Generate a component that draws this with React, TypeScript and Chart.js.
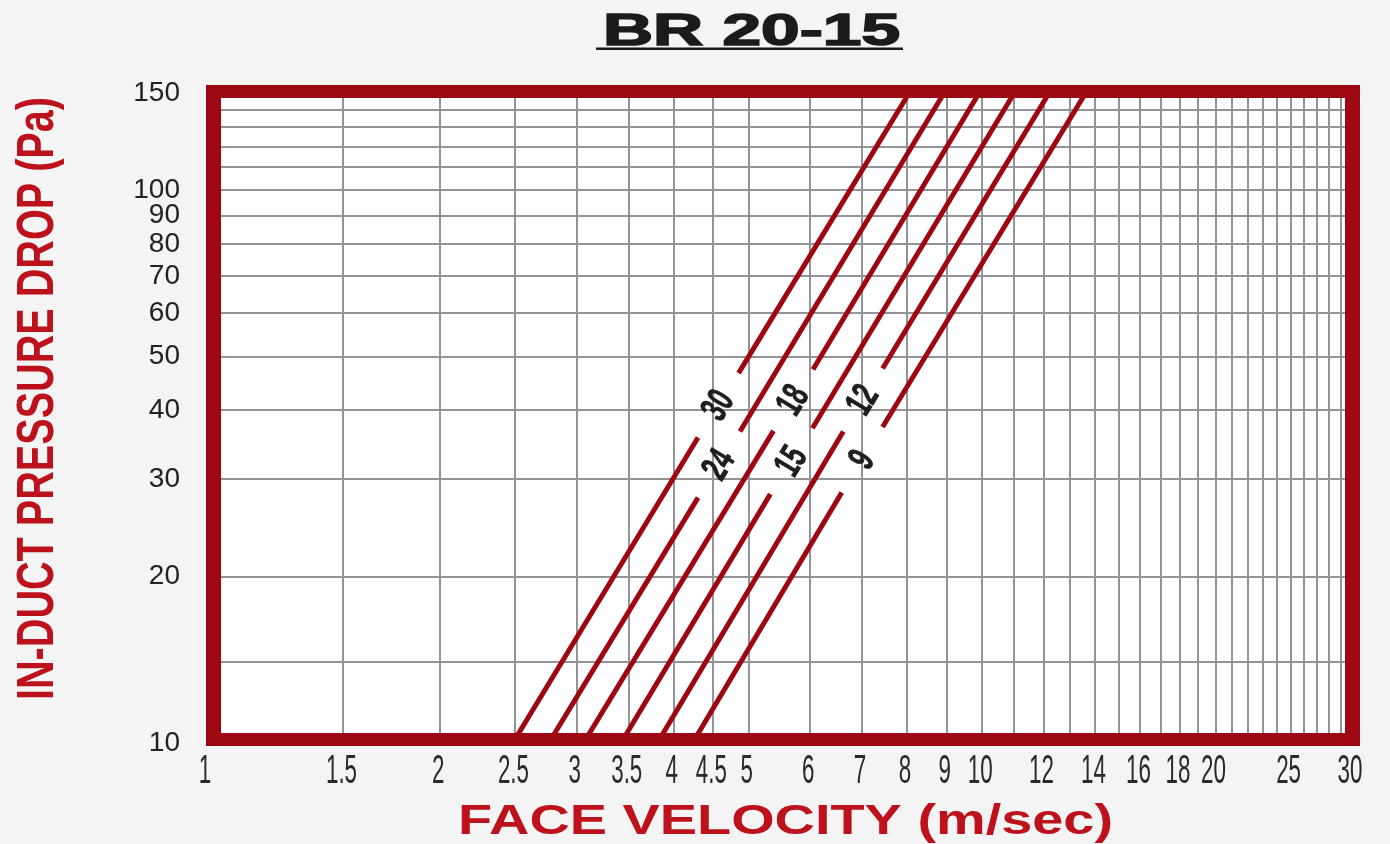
import React, { useEffect, useRef } from 'react';
import { Chart, registerables } from 'chart.js';

Chart.register(...registerables);

// ---------- text ----------
const chartTitle = 'BR 20-15';
const xAxisTitle = 'FACE VELOCITY (m/sec)';
const yAxisTitle = 'IN-DUCT PRESSURE DROP (Pa)';

// ---------- axes ----------
const xGridValues = [1, 1.5, 2, 2.5, 3, 3.5, 4, 4.5, 5, 6, 7, 8, 9, 10, 11, 12, 13, 14, 15, 16, 17, 18, 19, 20, 21, 22, 23, 24, 25, 26, 27, 28, 29, 30];
const xLabelValues = [1, 1.5, 2, 2.5, 3, 3.5, 4, 4.5, 5, 6, 7, 8, 9, 10, 12, 14, 16, 18, 20, 25, 30];
const xLabelTexts = ['1', '1.5', '2', '2.5', '3', '3.5', '4', '4.5', '5', '6', '7', '8', '9', '10', '12', '14', '16', '18', '20', '25', '30'];
const yGridValues = [10, 14, 20, 30, 40, 50, 60, 70, 80, 90, 100, 110, 120, 130, 140, 150];
const yLabelValues = [10, 20, 30, 40, 50, 60, 70, 80, 90, 100, 150];

// ---------- series (null = gap where the label sits) ----------
const seriesNames = ['30', '24', '18', '15', '12', '9'];
const velocity30 = [2.48, 4.3, null, 4.85, 8.05];
const pressure30 = [10, 35.7, null, 46.7, 150];
const velocity24 = [2.76, 4.3, null, 4.87, 8.93];
const pressure24 = [10, 27.8, null, 36.6, 150];
const velocity18 = [3.06, 5.38, null, 6.05, 9.91];
const pressure18 = [10, 36.7, null, 47.4, 150];
const velocity15 = [3.42, 5.33, null, 6.04, 11.0];
const pressure15 = [10, 28.2, null, 37.1, 150];
const velocity12 = [3.81, 6.62, null, 7.44, 12.2];
const pressure12 = [10, 36.6, null, 47.6, 150];
const velocity9 = [4.23, 6.59, null, 7.44, 13.6];
const pressure9 = [10, 28.4, null, 37.3, 150];

const seriesVelocities = [velocity30, velocity24, velocity18, velocity15, velocity12, velocity9];
const seriesPressures = [pressure30, pressure24, pressure18, pressure15, pressure12, pressure9];

// ---------- style ----------
const FRAME_RED = '#9e0711';
const TITLE_RED = '#bd111b';
const GRID = '#949497';
const FONT = '"Liberation Sans", Arial, sans-serif';

function drawScaledText(
  ctx: CanvasRenderingContext2D,
  text: string,
  x: number,
  y: number,
  font: string,
  color: string,
  sx: number,
  angle = 0,
  dy = 0,
  stroke = 0
) {
  ctx.save();
  ctx.translate(x, y);
  ctx.rotate(angle);
  ctx.scale(sx, 1);
  ctx.font = font;
  ctx.fillStyle = color;
  ctx.textAlign = 'center';
  ctx.textBaseline = 'alphabetic';
  ctx.fillText(text, 0, dy);
  if (stroke > 0) {
    ctx.strokeStyle = color;
    ctx.lineWidth = stroke;
    ctx.strokeText(text, 0, dy);
  }
  ctx.restore();
}

function fitScale(ctx: CanvasRenderingContext2D, text: string, font: string, width: number) {
  ctx.save();
  ctx.font = font;
  const w = ctx.measureText(text).width;
  ctx.restore();
  return width / w;
}

const decorPlugin = {
  id: 'decor',
  beforeDraw(chart: any) {
    const { ctx, chartArea: a } = chart;
    ctx.save();
    ctx.fillStyle = '#ffffff';
    ctx.fillRect(a.left + 14, a.top + 5, a.right - a.left - 21, a.bottom - a.top - 15);
    ctx.restore();
  },
  afterDatasetsDraw(chart: any) {
    const { ctx } = chart;
    const xs = chart.scales.x;
    const ys = chart.scales.y;
    const labelFont = `bold 38px ${FONT}`;
    seriesNames.forEach((name, i) => {
      const v = seriesVelocities[i];
      const p = seriesPressures[i];
      const x0 = xs.getPixelForValue(v[0]);
      const y0 = ys.getPixelForValue(p[0]);
      const x4 = xs.getPixelForValue(v[4]);
      const y4 = ys.getPixelForValue(p[4]);
      const x1 = xs.getPixelForValue(v[1]);
      const y1 = ys.getPixelForValue(p[1]);
      const x3 = xs.getPixelForValue(v[3]);
      const y3 = ys.getPixelForValue(p[3]);
      const angle = Math.atan2(y4 - y0, x4 - x0);
      drawScaledText(ctx, name, (x1 + x3) / 2 - 2, (y1 + y3) / 2 - 1, labelFont, '#1e1e1e', 0.64, angle, 13.5, 0.8);
    });
  },
  afterDraw(chart: any) {
    const { ctx, chartArea: a } = chart;
    const xs = chart.scales.x;
    ctx.save();
    // red frame
    ctx.fillStyle = FRAME_RED;
    const L = a.left - 1, T = a.top - 8, R = a.right + 8, B = a.bottom + 3;
    ctx.fillRect(L, T, R - L, 13);
    ctx.fillRect(L, B - 13, R - L, 13);
    ctx.fillRect(L, T, 15, B - T);
    ctx.fillRect(R - 15, T, 15, B - T);
    ctx.restore();

    // x tick labels (tall narrow digits)
    const tickFont = `40px ${FONT}`;
    xLabelValues.forEach((v, i) => {
      drawScaledText(ctx, xLabelTexts[i], xs.getPixelForValue(v) - 2, a.bottom + 40, tickFont, '#2a2a2a', 0.56);
    });

    // chart title
    const tFont = `bold 45px ${FONT}`;
    const tsx = fitScale(ctx, chartTitle, tFont, 297);
    ctx.save();
    ctx.translate(751.5, 45);
    ctx.scale(tsx, 1);
    ctx.font = tFont;
    ctx.fillStyle = '#1c1a1b';
    ctx.strokeStyle = '#1c1a1b';
    ctx.lineWidth = 1.6;
    ctx.textAlign = 'center';
    ctx.fillText(chartTitle, 0, 0);
    ctx.strokeText(chartTitle, 0, 0);
    ctx.restore();
    ctx.save();
    ctx.fillStyle = '#1c1a1b';
    ctx.fillRect(596, 47.5, 307, 2.5);
    ctx.restore();

    // x axis title
    const xFont = `bold 42px ${FONT}`;
    drawScaledText(ctx, xAxisTitle, 785.5, 834, xFont, TITLE_RED, fitScale(ctx, xAxisTitle, xFont, 655));

    // y axis title
    const yFont = `bold 52px ${FONT}`;
    drawScaledText(ctx, yAxisTitle, 53, 398.5, yFont, TITLE_RED, fitScale(ctx, yAxisTitle, yFont, 603), -Math.PI / 2);
  },
};

export default function App() {
  const canvasRef = useRef<HTMLCanvasElement | null>(null);

  useEffect(() => {
    const canvas = canvasRef.current;
    if (!canvas) return;
    const datasets = seriesNames.map((name, i) => ({
      label: name,
      data: seriesVelocities[i].map((v, j) => ({ x: v, y: seriesPressures[i][j] })),
      borderColor: FRAME_RED,
      backgroundColor: FRAME_RED,
      borderWidth: 5,
      borderCapStyle: 'butt' as const,
      pointRadius: 0,
      pointHoverRadius: 0,
      spanGaps: false,
      fill: false,
      tension: 0,
    }));

    const chart = new Chart(canvas, {
      type: 'line',
      data: { datasets },
      options: {
        animation: false,
        responsive: false,
        devicePixelRatio: 1,
        events: [],
        layout: { padding: { left: 0, top: 93, right: 38, bottom: 0 } },
        plugins: {
          legend: { display: false },
          tooltip: { enabled: false },
          title: { display: false },
        },
        scales: {
          x: {
            type: 'logarithmic',
            position: 'bottom',
            min: 1,
            max: 30,
            afterBuildTicks: (scale: any) => {
              scale.ticks = xGridValues.map((v) => ({ value: v }));
            },
            afterFit: (scale: any) => {
              scale.height = 101;
            },
            grid: { color: GRID, lineWidth: 2, drawTicks: false },
            border: { display: false },
            ticks: { display: false, autoSkip: false },
          },
          y: {
            type: 'logarithmic',
            position: 'left',
            min: 10,
            max: 150,
            afterBuildTicks: (scale: any) => {
              scale.ticks = yGridValues.map((v) => ({ value: v }));
            },
            afterFit: (scale: any) => {
              scale.width = 207;
            },
            grid: { color: GRID, lineWidth: 2, drawTicks: false },
            border: { display: false },
            ticks: {
              autoSkip: false,
              padding: 27,
              color: '#222222',
              font: { family: FONT, size: 28 },
              callback: (value: any) => (yLabelValues.includes(Number(value)) ? String(value) : ''),
            },
          },
        },
      },
      plugins: [decorPlugin],
    });

    return () => chart.destroy();
  }, []);

  return (
    <div style={{ position: 'fixed', left: 0, top: 0, width: 1390, height: 844, background: '#f4f4f4' }}>
      <canvas ref={canvasRef} width={1390} height={844} style={{ display: 'block' }} />
    </div>
  );
}
